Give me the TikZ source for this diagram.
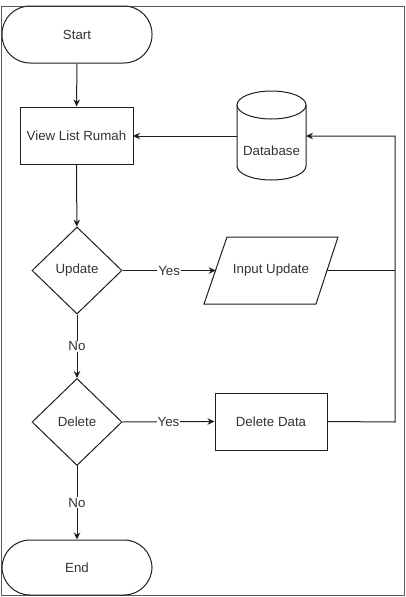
\documentclass[tikz,border=0pt]{standalone}
\usepackage{fontspec}
\setmainfont{Liberation Sans}
\usetikzlibrary{shapes.geometric,arrows.meta}
\definecolor{ln}{HTML}{1E1E1E}
\definecolor{tx}{HTML}{333333}
\begin{document}
\begin{tikzpicture}[x=1pt,y=-1pt,
  every node/.style={font=\fontsize{13.3}{15}\selectfont, text=tx},
  term/.style={draw=ln, line width=1pt, rounded corners=28pt, minimum width=150pt, inner sep=0pt},
  proc/.style={draw=ln, line width=1pt, minimum width=113pt, minimum height=57pt, inner sep=0pt},
  dec/.style={draw=ln, line width=1pt, diamond, aspect=1, minimum width=90pt, minimum height=87pt, inner sep=0pt},
  ghost/.style={inner sep=0pt},
  shp/.style={draw=ln, line width=1pt},
  con/.style={draw=ln, line width=1pt, -{Stealth[length=7pt,width=6.5pt]}},
  plain/.style={draw=ln, line width=1pt},
  lbl/.style={fill=white, inner sep=1pt}]
\useasboundingbox (0,0) rectangle (405,597);
\draw[draw=gray!70!black, line width=1pt] (1.5,6) rectangle (404,595.5);

\node[term, minimum height=57pt] (start) at (77,34.5) {Start};
\node[proc] (view) at (76.5,135.5) {View List Rumah};
\node[dec] (upd) at (77,270.5) {Update};
\node[dec] (del) at (77,422) {Delete};
\node[term, minimum height=55pt] (end) at (77,567.5) {End};
\node[proc, minimum width=112pt] (deld) at (271,421.5) {Delete Data};

% Input Update parallelogram
\node[ghost] (inp) at (271,270.5) {Input Update};
\draw[shp] (227,237) -- (338,237) -- (316,304) -- (204,304) -- cycle;
\coordinate (inpw) at (215.7,270.5);
\coordinate (inpe) at (327.2,270.5);

% Database cylinder
\node[ghost, minimum width=69pt, minimum height=89pt] (db) at (271.5,135.5) {};
\node[ghost] (dbt) at (271.5,151) {Database};
\draw[shp] (237,105) -- (237,166) arc[start angle=180, end angle=360, x radius=34.5pt, y radius=14pt] -- (306,105);
\draw[shp] (271.5,105) ellipse[x radius=34.5pt, y radius=14pt];
\coordinate (dbe) at (306,136);
\coordinate (dbw) at (237,136);
\coordinate (vwe) at (133,136);
\coordinate (rc1) at (395,422);
\coordinate (rc2) at (395,136);
\coordinate (rc3) at (395,270.5);

\draw[con] (start) -- (view);
\draw[con] (view) -- (upd);
\draw[con] (upd) -- node[lbl] {No} (del);
\draw[con] (del) -- node[lbl] {No} (end);
\draw[con] (upd.east) -- node[lbl, pos=0.5] {Yes} (inpw);
\draw[con] (del.east) -- node[lbl, pos=0.5] {Yes} (deld.west);
\draw[plain] (inpe) -- (rc3);
\draw[con] (deld.east) -- (rc1) -- (rc2) -- (dbe);
\draw[con] (dbw) -- (vwe);
\end{tikzpicture}
\end{document}
